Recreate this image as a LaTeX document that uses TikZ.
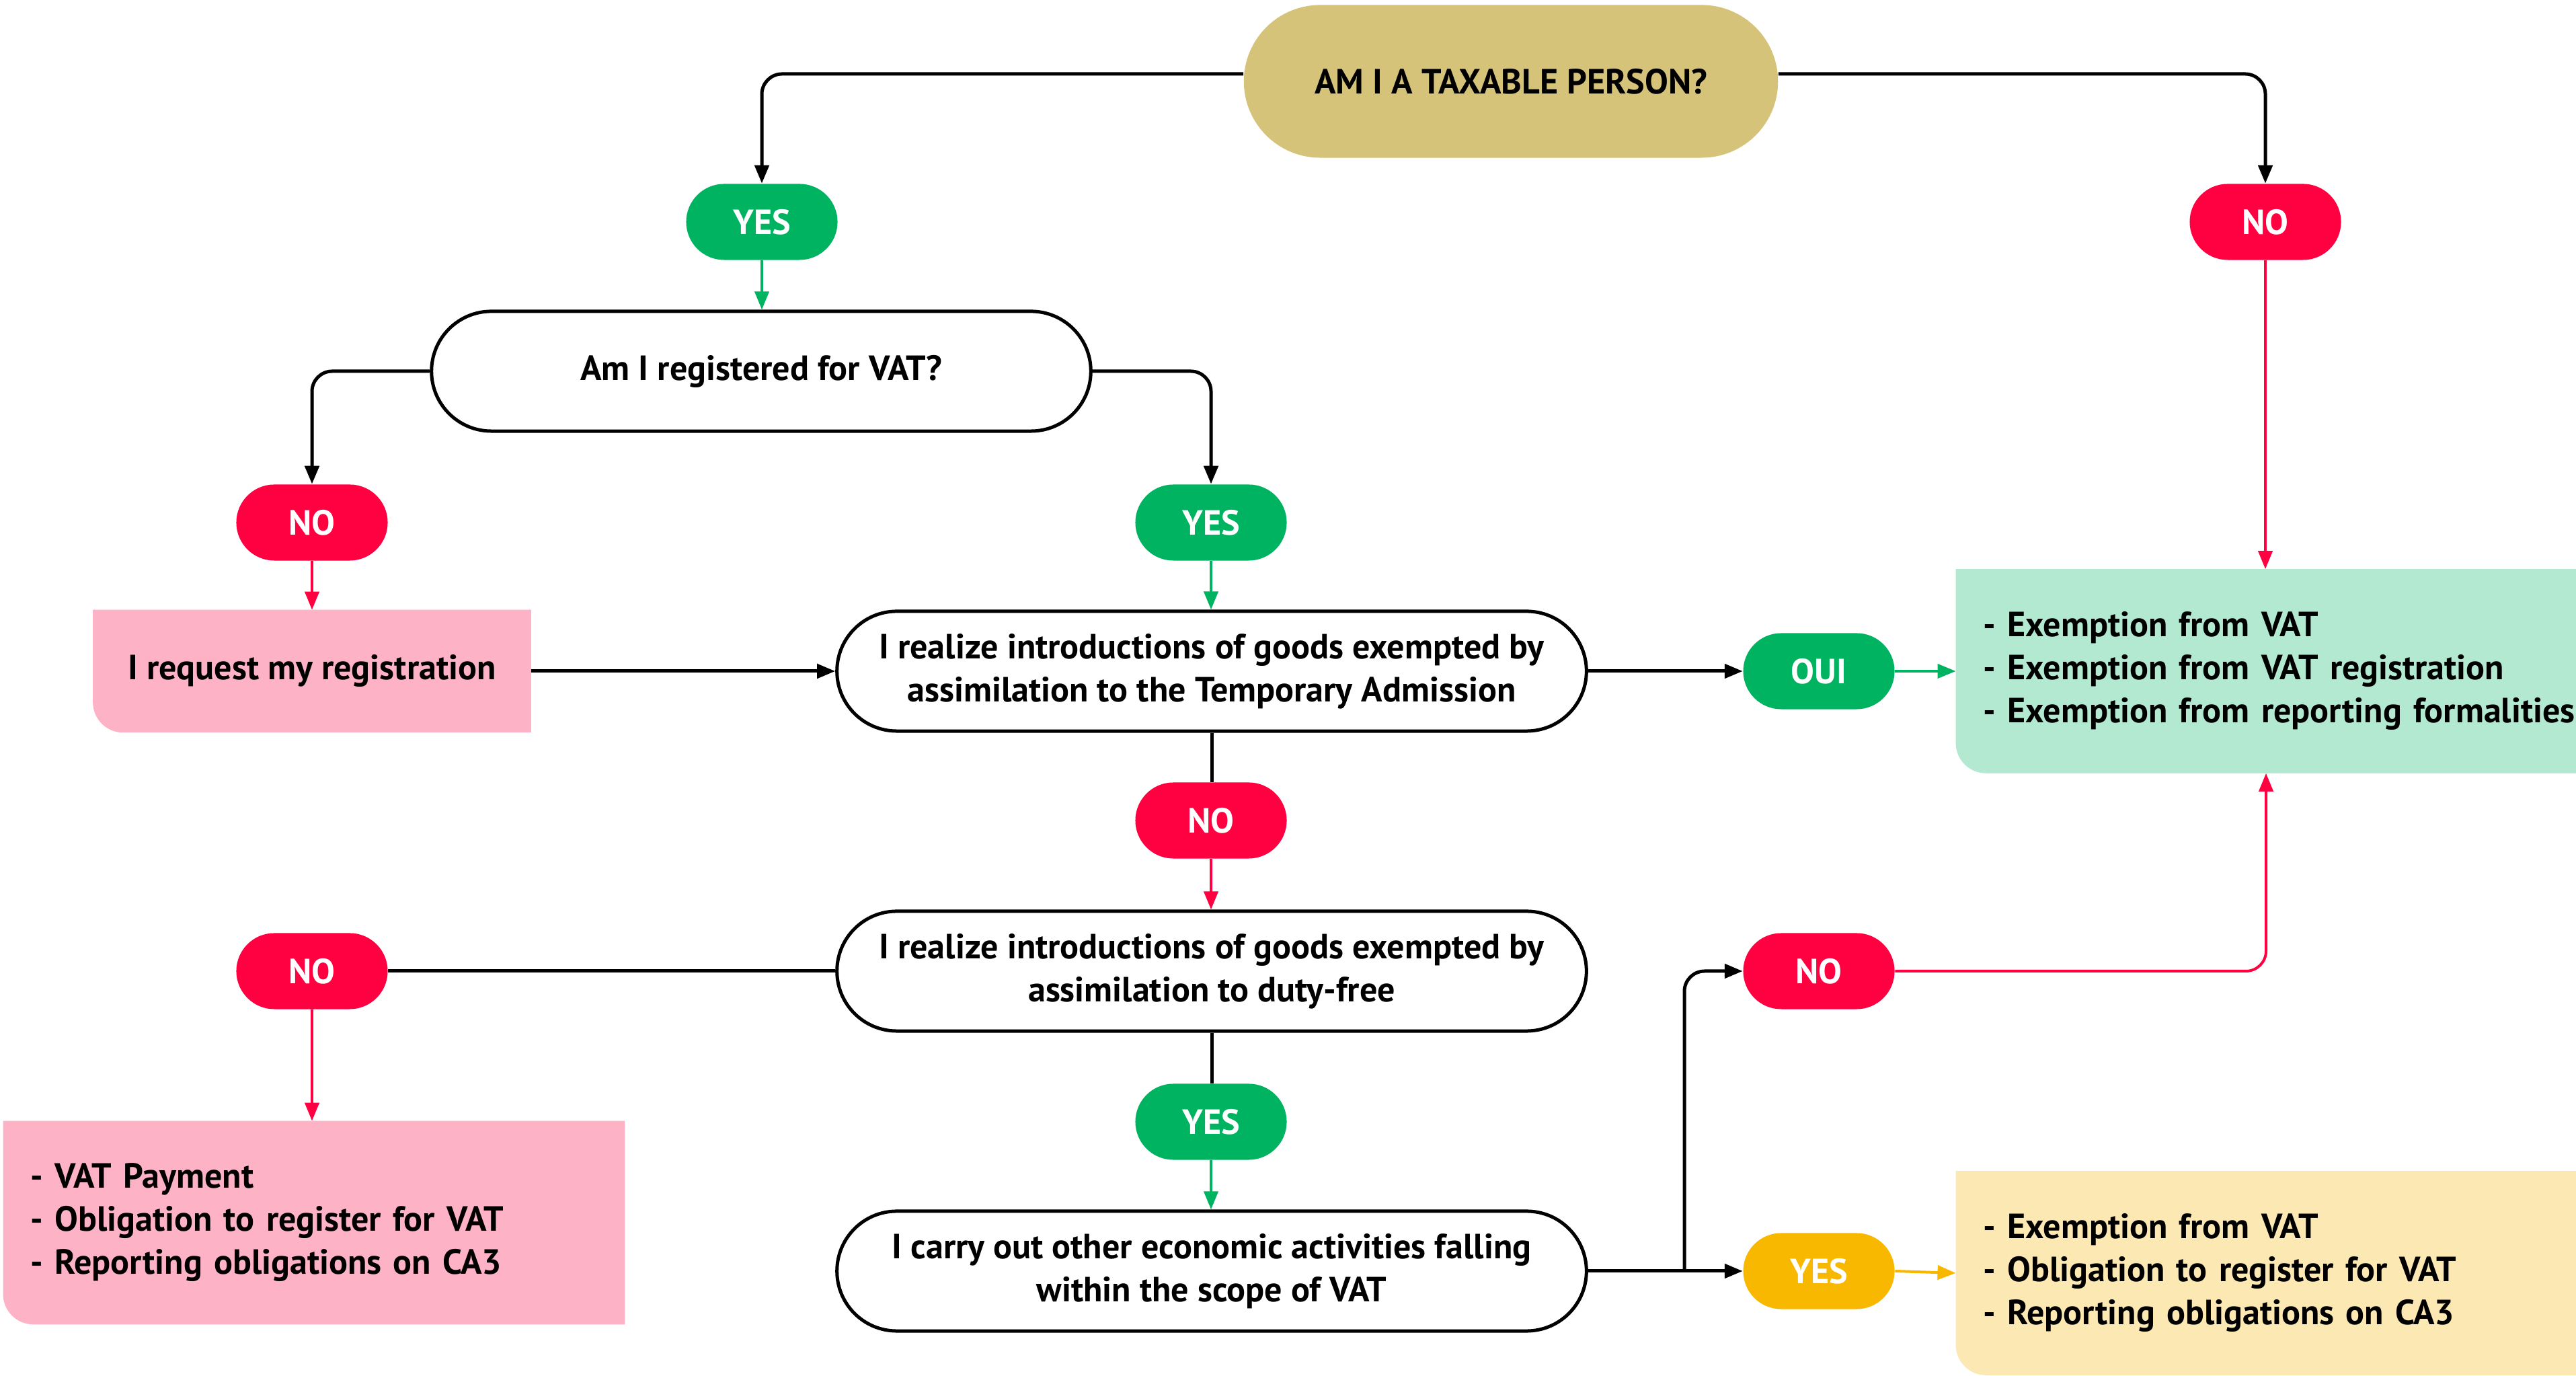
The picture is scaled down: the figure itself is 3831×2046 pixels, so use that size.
\documentclass[tikz,border=0pt]{standalone}
\usepackage{fontspec}
\setmainfont{PT Sans}
\usetikzlibrary{arrows.meta,backgrounds,calc}

\definecolor{gold}{HTML}{D6C37A}
\definecolor{okgreen}{HTML}{00B360}
\definecolor{nored}{HTML}{FF0040}
\definecolor{ambr}{HTML}{F9B800}
\definecolor{pinkbg}{HTML}{FDB2C5}
\definecolor{mintbg}{HTML}{B3E8D1}
\definecolor{creambg}{HTML}{FCE8B2}

% fill of an outcome box: only the lower left corner is rounded
\newcommand\softcornerfill[2]{%
  \fill[#2] (#1.north west) -- ([yshift=0.45cm]#1.south west)
    arc[start angle=180,end angle=270,radius=0.45cm]
    -- (#1.south east) -- (#1.north east) -- cycle;}
% one unbroken line of a list
\newcommand\listline[1]{\mbox{#1}}

\tikzset{
  txt/.style={font=\fontsize{14.8}{18.2}\selectfont\bfseries},
  badge/.style={txt, rectangle, rounded corners=0.565cm, minimum width=2.25cm,
    minimum height=1.13cm, inner sep=0pt, text=white},
  yesb/.style={badge, fill=okgreen},
  nob/.style={badge, fill=nored},
  ambb/.style={badge, fill=ambr},
  question/.style={txt, rectangle, rounded corners=0.89cm, draw=black,
    line width=0.05cm, minimum width=11.14cm, minimum height=1.78cm,
    align=center, inner sep=0pt},
  outcome/.style={txt, rectangle, inner xsep=0.4cm, inner ysep=0pt,
    text width=8.41cm, minimum height=3.02cm, align=left},
  conn/.style={line width=0.05cm, rounded corners=0.3cm},
  arr/.style={conn, -{Triangle[length=0.27cm,width=0.21cm]}},
  garr/.style={arr, draw=okgreen, line width=0.04cm},
  rarr/.style={arr, draw=nored, line width=0.04cm},
  yarr/.style={arr, draw=ambr, line width=0.04cm},
  rline/.style={conn, draw=nored, line width=0.04cm, -{Triangle[length=0.27cm,width=0.21cm]}},
}

\begin{document}
\begin{tikzpicture}[x=0.01cm,y=0.01cm]
\useasboundingbox (0,0) rectangle (3831,2046);

% top question
\node[txt, rectangle, rounded corners=1.135cm, fill=gold, minimum width=7.94cm,
  minimum height=2.27cm, inner sep=0pt] (top) at (2247,1925) {AM I A TAXABLE PERSON?};

% badges
\node[yesb] (yes1) at (1133,1716) {YES};
\node[nob]  (no1)  at (3369,1716) {NO};
\node[nob]  (no2)  at (464,1269) {NO};
\node[yesb] (yes2) at (1801,1269) {YES};
\node[yesb] (oui)  at (2705,1048) {OUI};
\node[nob]  (no3)  at (1801,826) {NO};
\node[nob]  (no4)  at (464,602) {NO};
\node[nob]  (no5)  at (2705,602) {NO};
\node[yesb] (yes3) at (1801,378) {YES};
\node[ambb] (yes4) at (2705,156) {YES};

% questions
\node[question, minimum width=9.80cm] (q1) at (1132,1494) {Am I registered for VAT?};
\node[question] (q2) at (1802,1048) {I realize introductions of goods exempted by\\assimilation to the Temporary Admission};
\node[question] (q3) at (1802,602) {I realize introductions of goods exempted by\\assimilation to duty-free};
\node[question] (q4) at (1802,156) {I carry out other economic activities falling\\within the scope of VAT};

% outcomes
\node[txt, rectangle, minimum width=6.50cm, minimum height=1.81cm, inner sep=0pt]
  (req) at (464,1048) {I request my registration};
\node[outcome] (free) at (3370,1048) {\listline{- Exemption from VAT}\\\listline{- Exemption from VAT registration}\\\listline{- Exemption from reporting formalities}};
\node[outcome, text width=8.43cm, minimum height=3.01cm] (pay) at (467,228) {\listline{- VAT Payment}\\\listline{- Obligation to register for VAT}\\\listline{- Reporting obligations on CA3}};
\node[outcome] (oblig) at (3370,153) {\listline{- Exemption from VAT}\\\listline{- Obligation to register for VAT}\\\listline{- Reporting obligations on CA3}};

\begin{scope}[on background layer]
  \softcornerfill{req}{pinkbg}
  \softcornerfill{free}{mintbg}
  \softcornerfill{pay}{pinkbg}
  \softcornerfill{oblig}{creambg}
\end{scope}

% connectors
\coordinate (j) at (2505,156);
\draw[arr] ([yshift=0.11cm]top.west) -| (yes1.north);
\draw[arr] ([yshift=0.11cm]top.east) -| (no1.north);
\draw[garr] (yes1.south) -- (yes1.south |- q1.north);
\draw[arr] (q1.west) -| (no2.north);
\draw[arr] (q1.east) -| (yes2.north);
\draw[rarr] (no2.south) -- (no2.south |- req.north);
\draw[garr] (yes2.south) -- (yes2.south |- q2.north);
\draw[arr] (req.east) -- (q2.west);
\draw[arr] (q2.east) -- (oui.west);
\draw[garr] (oui.east) -- (free.west);
\draw[rarr] (no1.south) -- (no1.south |- free.north);
\draw[conn] (q2.south) -- (q2.south |- no3.north);
\draw[rarr] (no3.south) -- (no3.south |- q3.north);
\draw[conn] (q3.west) -- (no4.east);
\draw[rarr] (no4.south) -- (no4.south |- pay.north);
\draw[conn] (q3.south) -- (q3.south |- yes3.north);
\draw[garr] (yes3.south) -- (yes3.south |- q4.north);
\draw[arr] (q4.east) -- (yes4.west);
\draw[arr] (j) |- (no5.west);
\draw[yarr] (yes4.east) -- (oblig.west);
\draw[rline] (no5.east) -| (free.south);
\end{tikzpicture}
\end{document}
